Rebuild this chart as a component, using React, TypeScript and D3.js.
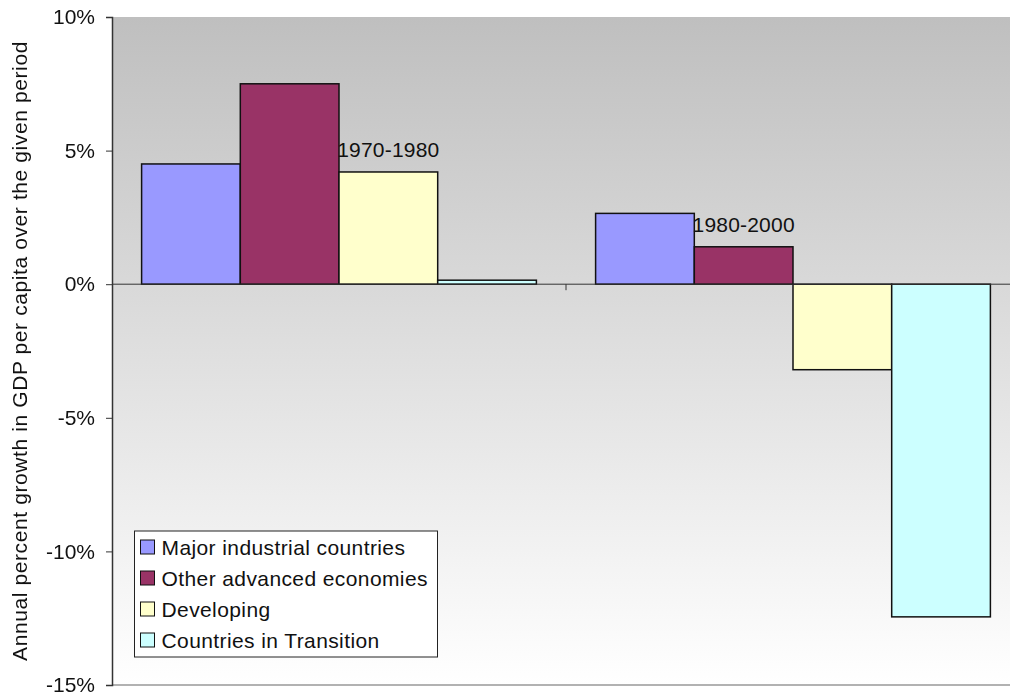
import { useEffect, useRef } from 'react';
import * as d3 from 'd3';

const periods = ['1970-1980', '1980-2000'];
const seriesNames = [
  'Major industrial countries',
  'Other advanced economies',
  'Developing',
  'Countries in Transition',
];
const seriesColors = ['#9999FF', '#993366', '#FFFFCC', '#CCFFFF'];
const growth1970 = [4.5, 7.5, 4.2, 0.15];
const growth1980 = [2.65, 1.4, -3.2, -12.45];
const yTicks = [10, 5, 0, -5, -10, -15];
// which bar each period label sits above
const labelSeries = [2, 1];

const App = () => {
  const svgRef = useRef<SVGSVGElement>(null);

  useEffect(() => {
    const width = 1010;
    const height = 693;
    const margin = { left: 112, top: 17, right: -10, bottom: 8 };
    const font = 'Liberation Sans, Arial, sans-serif';

    const svg = d3.select(svgRef.current)
      .attr('width', width)
      .attr('height', height);
    svg.selectAll('*').remove();

    const defs = svg.append('defs');
    const grad = defs.append('linearGradient')
      .attr('id', 'bg')
      .attr('x1', 0).attr('y1', 0).attr('x2', 0).attr('y2', 1);
    grad.append('stop').attr('offset', '0%').attr('stop-color', '#bfbfbf');
    grad.append('stop').attr('offset', '100%').attr('stop-color', '#ffffff');

    const x0 = d3.scaleBand()
      .domain(periods)
      .range([margin.left, width - margin.right]);
    const x1 = d3.scaleBand()
      .domain(seriesNames)
      .range([0, x0.bandwidth()])
      .paddingOuter(0.3)
      .paddingInner(0);
    const y = d3.scaleLinear()
      .domain([-15, 10])
      .range([height - margin.bottom, margin.top]);

    // plot background
    svg.append('rect')
      .attr('x', margin.left)
      .attr('y', y(10))
      .attr('width', width - margin.right - margin.left)
      .attr('height', y(-15) - y(10))
      .attr('fill', 'url(#bg)');

    svg.append('line')
      .attr('x1', margin.left).attr('x2', width)
      .attr('y1', y(-15)).attr('y2', y(-15))
      .attr('stroke', '#999').attr('stroke-width', 1.5);

    const values = [growth1970, growth1980];
    const g = svg.append('g');
    periods.forEach((p, pi) => {
      g.selectAll(`rect.p${pi}`)
        .data(values[pi])
        .enter()
        .append('rect')
        .attr('x', (d, i) => x0(p)! + x1(seriesNames[i])!)
        .attr('y', d => y(Math.max(0, d)))
        .attr('width', x1.bandwidth())
        .attr('height', d => Math.abs(y(d) - y(0)))
        .attr('fill', (d, i) => seriesColors[i])
        .attr('stroke', '#111')
        .attr('stroke-width', 1.5);

      const si = labelSeries[pi];
      g.append('text')
        .attr('x', x0(p)! + x1(seriesNames[si])! + x1.bandwidth() / 2)
        .attr('y', y(values[pi][si]) - 15)
        .attr('text-anchor', 'middle')
        .attr('font-family', font)
        .attr('font-size', 21)
        .attr('letter-spacing', 0.2)
        .attr('fill', '#111')
        .text(p);
    });

    // x axis at zero
    svg.append('line')
      .attr('x1', margin.left).attr('x2', width)
      .attr('y1', y(0)).attr('y2', y(0))
      .attr('stroke', '#333').attr('stroke-width', 1);
    svg.append('line')
      .attr('x1', x0(periods[1])!).attr('x2', x0(periods[1])!)
      .attr('y1', y(0)).attr('y2', y(0) + 6)
      .attr('stroke', '#333');

    // y axis
    const yAxis = svg.append('g')
      .attr('transform', `translate(${margin.left},0)`)
      .call(d3.axisLeft(y).tickValues(yTicks).tickSize(6).tickPadding(11)
        .tickFormat(d => `${d}%`));
    yAxis.select('.domain').attr('stroke', '#333').attr('stroke-width', 1.5);
    yAxis.selectAll('.tick line').attr('stroke', '#333');
    yAxis.selectAll('text')
      .attr('font-family', font)
      .attr('font-size', 21)
      .attr('fill', '#111');

    svg.append('text')
      .attr('transform', `translate(27,${(y(10) + y(-15)) / 2}) rotate(-90)`)
      .attr('text-anchor', 'middle')
      .attr('font-family', font)
      .attr('font-size', 21)
      .attr('letter-spacing', 0.6)
      .attr('fill', '#111')
      .text('Annual percent growth in GDP per capita over the given period');

    // legend
    const legend = svg.append('g').attr('transform', 'translate(134.5,531)');
    legend.append('rect')
      .attr('width', 303)
      .attr('height', 126)
      .attr('fill', '#fff')
      .attr('stroke', '#222');
    const items = legend.selectAll('g.item')
      .data(seriesNames)
      .enter()
      .append('g')
      .attr('transform', (d, i) => `translate(6,${16 + i * 31})`);
    items.append('rect')
      .attr('x', 0).attr('y', -7)
      .attr('width', 14).attr('height', 14)
      .attr('fill', (d, i) => seriesColors[i])
      .attr('stroke', '#111');
    items.append('text')
      .attr('x', 21)
      .attr('y', 7.5)
      .attr('font-family', font)
      .attr('font-size', 21)
      .attr('letter-spacing', 0.4)
      .attr('fill', '#111')
      .text(d => d);
  }, []);

  return (
    <div style={{ position: 'fixed', left: 0, top: 0 }}>
      <svg ref={svgRef} style={{ display: 'block' }}></svg>
    </div>
  );
};

export default App;
